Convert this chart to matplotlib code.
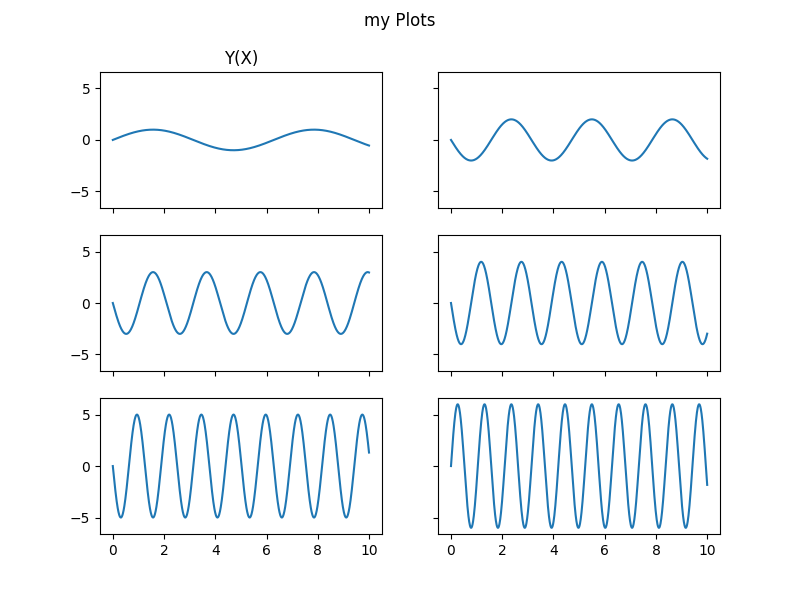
import numpy as np
import matplotlib
matplotlib.use("Agg")
import matplotlib.pyplot as plt

# Values: each panel is a sinusoid
amplitudes = [1, -2, -3, -4, -5, 6]     # peak value and initial direction
frequencies = [1, 2, 3, 4, 5, 6]        # angular frequency (rad per x unit)
x_start, x_end, n_points = 0, 10, 1000
x = np.linspace(x_start, x_end, n_points)

fig, axes = plt.subplots(3, 2, sharex=True, sharey=True, figsize=(8, 6), dpi=100)
fig.suptitle("my Plots")
for ax, a, f in zip(axes.flat, amplitudes, frequencies):
    ax.plot(x, a * np.sin(f * x))
axes[0, 0].set_title("Y(X)")
fig.savefig("out.png")
